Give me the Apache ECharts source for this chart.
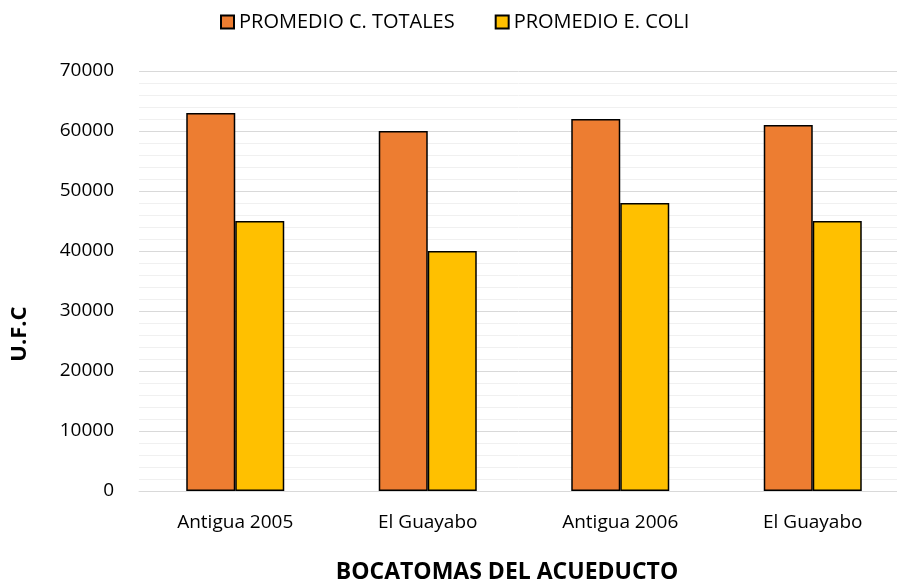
<!DOCTYPE html>
<html><head><meta charset="utf-8">
<script src="https://cdn.jsdelivr.net/npm/echarts@6/dist/echarts.min.js"></script>
<style>html,body{margin:0;padding:0;background:#fff}#c{width:897px;height:588px}</style>
</head><body><div id="c"></div>
<script>
var categories = ["Antigua 2005", "El Guayabo", "Antigua 2006", "El Guayabo"];
var totales = [63000, 60000, 62000, 61000];
var ecoli = [45000, 40000, 48000, 45000];
var seriesNames = ["PROMEDIO C. TOTALES", "PROMEDIO E. COLI"];
var yTicks = {min: 0, max: 70000, interval: 10000};
var xTitle = "BOCATOMAS DEL ACUEDUCTO";
var yTitle = "U.F.C";
var FONT = "Open Sans";
var chart = echarts.init(document.getElementById('c'), null, {renderer: 'canvas'});
chart.setOption({
  animation: false,
  textStyle: {fontFamily: FONT},
  title: {
    text: xTitle, left: 507, top: 561, padding: 0, textAlign: 'center',
    textStyle: {fontFamily: FONT, fontSize: 23, fontWeight: 'bold', color: '#000'}
  },
  graphic: [{
    type: 'text', x: 20, y: 334, rotation: Math.PI / 2,
    style: {text: yTitle, font: 'bold 22px "Open Sans"', fill: '#000',
            align: 'center', verticalAlign: 'middle'}
  }],
  legend: {
    top: 12, left: 220, padding: 0, itemWidth: 13, itemHeight: 13, itemGap: 40,
    icon: 'rect',
    textStyle: {fontFamily: FONT, fontSize: 20, color: '#000'},
    data: seriesNames
  },
  grid: {left: 139, top: 71, right: -12, height: 420, containLabel: false, outerBoundsMode: 'none'},
  xAxis: {
    type: 'category', data: categories,
    axisLine: {show: true, lineStyle: {color: '#d9d9d9', width: 1}},
    axisTick: {show: false},
    axisLabel: {fontFamily: FONT, fontSize: 19, color: '#000', margin: 22}
  },
  yAxis: {
    type: 'value', min: yTicks.min, max: yTicks.max, interval: yTicks.interval,
    axisLine: {show: false}, axisTick: {show: false},
    axisLabel: {fontFamily: FONT, fontSize: 19, color: '#000', margin: 25,
                formatter: function (v) { return String(v); }},
    splitLine: {lineStyle: {color: '#d9d9d9', width: 1}},
    minorTick: {show: false, splitNumber: 5},
    minorSplitLine: {show: true, lineStyle: {color: '#f0f0f0', width: 1}}
  },
  series: [
    {name: seriesNames[0], type: 'bar', data: totales, barWidth: 49, barGap: '0%',
     itemStyle: {color: '#ED7D31', borderColor: '#000', borderWidth: 1.5}},
    {name: seriesNames[1], type: 'bar', data: ecoli, barWidth: 49, barGap: '0%',
     itemStyle: {color: '#FFC000', borderColor: '#000', borderWidth: 1.5}}
  ]
});
</script></body></html>
